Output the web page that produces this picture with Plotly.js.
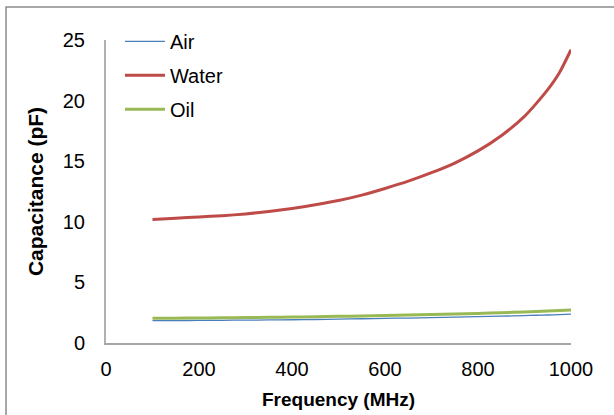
<!DOCTYPE html>
<html>
<head>
<meta charset="utf-8">
<script src="https://cdn.plot.ly/plotly-3.0.1.min.js"></script>
<style>
  html, body { margin: 0; padding: 0; background: #fff; }
  #chart { width: 614px; height: 415px; }
</style>
</head>
<body>
<div id="chart"></div>
<script>
// Frequency (MHz)
const freq = [100, 150, 200, 250, 300, 350, 400, 450, 500, 550, 600, 650, 700, 750, 800, 850, 900, 925, 950, 975, 1000];
// Capacitance (pF)
const air   = [1.84, 1.85, 1.86, 1.87, 1.89, 1.90, 1.92, 1.94, 1.97, 2.00, 2.03, 2.06, 2.09, 2.13, 2.17, 2.21, 2.26, 2.29, 2.31, 2.34, 2.38];
const water = [10.2, 10.3, 10.4, 10.5, 10.65, 10.85, 11.1, 11.4, 11.75, 12.2, 12.75, 13.35, 14.05, 14.85, 15.85, 17.1, 18.7, 19.75, 20.9, 22.3, 24.2];
const oil   = [2.05, 2.05, 2.06, 2.08, 2.10, 2.12, 2.14, 2.17, 2.20, 2.23, 2.27, 2.31, 2.35, 2.39, 2.44, 2.50, 2.56, 2.60, 2.64, 2.68, 2.72];
const seriesNames = ['Air', 'Water', 'Oil'];

const traces = [
  { x: freq, y: air,   name: seriesNames[0], mode: 'lines', legendgroup: 'a', line: { color: '#4a7ebb', width: 1.3, shape: 'spline', smoothing: 0.6 } },
  { x: freq, y: water, name: seriesNames[1], mode: 'lines', legendgroup: 'b', line: { color: '#be4b48', width: 3, shape: 'spline', smoothing: 0.6 } },
  { x: freq, y: oil,   name: seriesNames[2], mode: 'lines', legendgroup: 'c', line: { color: '#98b954', width: 3, shape: 'spline', smoothing: 0.6 } }
];

const fontFam = '"Liberation Sans", Arial, sans-serif';

const layout = {
  width: 614, height: 415,
  margin: { l: 106, r: 43, t: 40, b: 72 },
  paper_bgcolor: '#fff', plot_bgcolor: '#fff',
  font: { family: fontFam, size: 20, color: '#000' },
  showlegend: true,
  legend: {
    x: 0.03, y: 1.06, xanchor: 'left', yanchor: 'top',
    bgcolor: 'rgba(0,0,0,0)', font: { family: fontFam, size: 20, color: '#000' },
    tracegroupgap: 5, traceorder: 'grouped', itemwidth: 40
  },
  xaxis: {
    range: [0, 1000], dtick: 200, tick0: 0,
    showgrid: false, zeroline: false,
    showline: true, linecolor: '#a6a6a6', linewidth: 1.5,
    ticks: '', ticklabelstandoff: 7,
    tickfont: { family: fontFam, size: 20, color: '#000' },
    title: { text: '<b>Frequency (MHz)</b>', font: { family: fontFam, size: 19, color: '#000' }, standoff: 14 }
  },
  yaxis: {
    range: [0, 25], dtick: 5, tick0: 0,
    showgrid: false, zeroline: false,
    showline: true, linecolor: '#b0b0b0', linewidth: 2,
    ticks: '', ticklabelstandoff: 15,
    tickfont: { family: fontFam, size: 20, color: '#000' },
    title: { text: '<b>Capacitance (pF)</b>', font: { family: fontFam, size: 21, color: '#000' }, standoff: 13 }
  },
  shapes: [{
    type: 'rect', xref: 'paper', yref: 'paper',
    x0: -0.215, x1: 1.3, y0: -0.4, y1: 1.109,
    line: { color: '#8c8c8c', width: 1.5 }, fillcolor: 'rgba(0,0,0,0)', layer: 'below'
  }]
};

Plotly.newPlot('chart', traces, layout, { displayModeBar: false, staticPlot: true });
</script>
</body>
</html>
